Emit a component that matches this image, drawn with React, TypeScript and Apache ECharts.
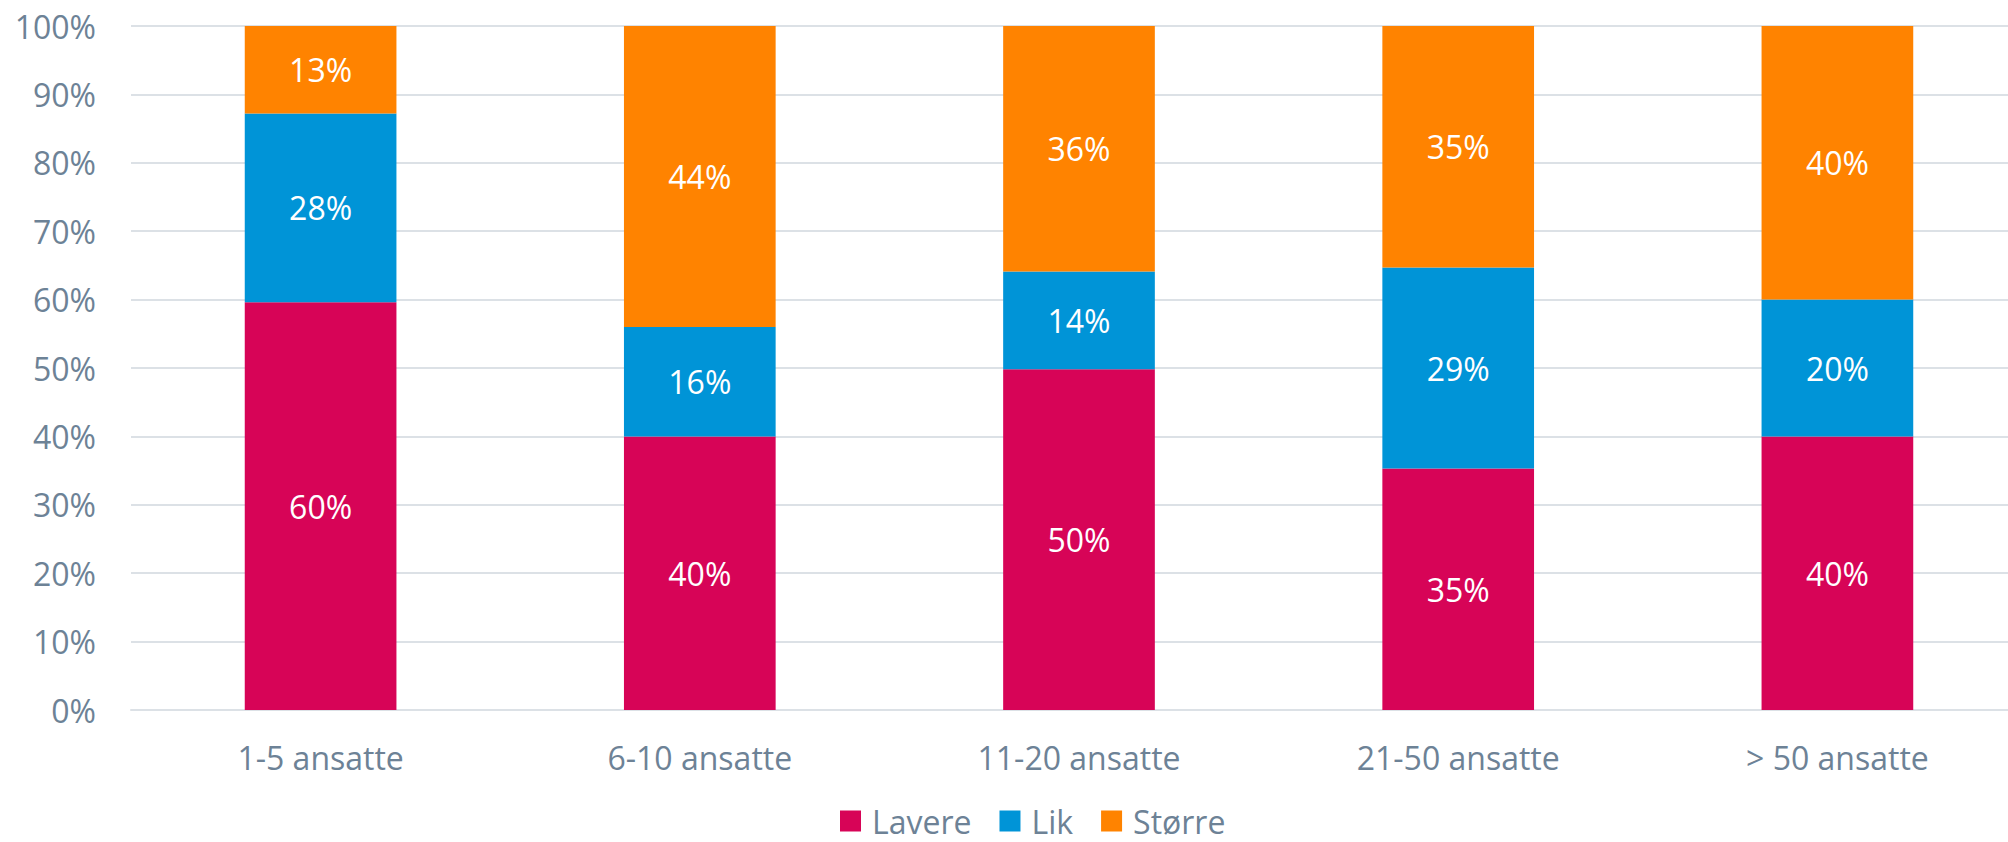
import React, { useEffect, useRef } from "react";
import * as echarts from "echarts";

const categories = ["1-5 ansatte", "6-10 ansatte", "11-20 ansatte", "21-50 ansatte", "> 50 ansatte"];
const lavere = [59.6, 40, 49.8, 35.3, 40];
const lik = [27.6, 16, 14.3, 29.4, 20];
const storre = [12.8, 44, 35.9, 35.3, 40];
const seriesNames = ["Lavere", "Lik", "Større"];
const colors = ["#D70457", "#0094D7", "#FF8300"];

const FONT = "'Open Sans', sans-serif";
const TEXT_COLOR = "#6D8296";
const GRID_COLOR = "#DCE1E6";

export default function App() {
  const ref = useRef<HTMLDivElement>(null);
  useEffect(() => {
    if (!ref.current) return;
    const chart = echarts.init(ref.current, null, { renderer: "svg" });
    const values = [lavere, lik, storre];
    chart.setOption({
      animation: false,
      textStyle: { fontFamily: FONT },
      grid: { left: 131, top: 26, width: 1896, height: 684, containLabel: false, outerBoundsMode: "none" },
      legend: {
        data: seriesNames,
        left: 840,
        top: 805,
        padding: 0,
        itemWidth: 21,
        itemHeight: 21,
        itemGap: 28,
        icon: "rect",
        textStyle: { fontFamily: FONT, fontSize: 32, lineHeight: 32, color: TEXT_COLOR, padding: [0, 0, 0, 6] },
      },
      xAxis: {
        type: "category",
        data: categories,
        axisTick: { show: false },
        axisLine: { show: true, lineStyle: { color: GRID_COLOR, width: 2 } },
        axisLabel: { fontFamily: FONT, fontSize: 32, color: TEXT_COLOR, margin: 31 },
      },
      yAxis: {
        type: "value",
        min: 0,
        max: 100,
        interval: 10,
        axisLabel: { formatter: "{value}%", fontFamily: FONT, fontSize: 32, color: TEXT_COLOR, margin: 35 },
        splitLine: { lineStyle: { color: GRID_COLOR, width: 2 } },
        axisLine: { show: false },
        axisTick: { show: false },
      },
      series: seriesNames.map((name, i) => ({
        name,
        type: "bar",
        stack: "total",
        barWidth: "40%",
        data: values[i],
        itemStyle: { color: colors[i] },
        label: {
          show: true,
          position: "inside",
          color: "#FFFFFF",
          fontFamily: FONT,
          fontSize: 32,
          formatter: (p: any) => Math.round(p.value) + "%",
        },
      })),
    });
    return () => chart.dispose();
  }, []);
  return (
    <div
      ref={ref}
      style={{ position: "fixed", left: 0, top: 0, width: 2008, height: 842, background: "#fff" }}
    />
  );
}
